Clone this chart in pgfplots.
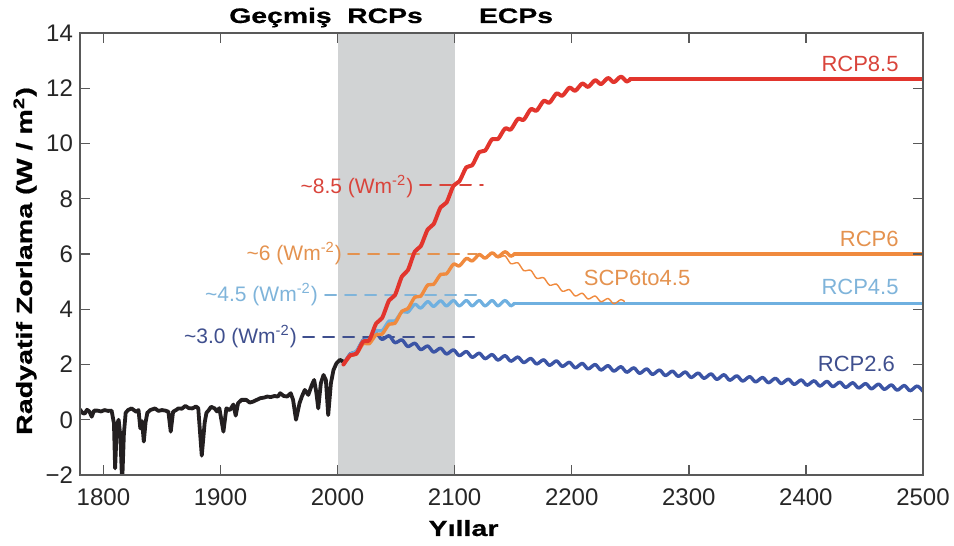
\documentclass[border=0pt]{standalone}
\usepackage{fontspec}
\setmainfont{Liberation Sans}
\newfontfamily\heavy[FakeBold=0.6]{Liberation Sans Bold}
\usepackage{graphicx}
\usepackage{pgfplots}
\pgfplotsset{compat=1.18}

\definecolor{rcpred}{HTML}{E2352D}
\definecolor{rcporange}{HTML}{F08A3E}
\definecolor{rcplblue}{HTML}{6FB0E0}
\definecolor{rcpdblue}{HTML}{3B54A5}
\definecolor{txtred}{HTML}{D9443B}
\definecolor{txtorange}{HTML}{E4924F}
\definecolor{txtlblue}{HTML}{7FB4DA}
\definecolor{txtdblue}{HTML}{3F4F8E}
\definecolor{bandgray}{HTML}{D1D3D4}
\definecolor{histblack}{HTML}{231F20}

\begin{document}
\begin{tikzpicture}
\useasboundingbox (-40pt,-35.5pt) rectangle (437pt,237.5pt);
\begin{axis}[
  at={(0,0)}, anchor=south west,
  scale only axis, width=421.5pt, height=221pt,
  xmin=1780, xmax=2500, ymin=-2, ymax=14,
  xtick={1800,1900,2000,2100,2200,2300,2400,2500},
  xticklabels={1800,1900,2000,2100,2200,2300,2400,2500},
  ytick={-2,0,2,4,6,8,10,12,14},
  yticklabels={−2,0,2,4,6,8,10,12,14},
  tick align=inside, tick pos=both,
  major tick length=5pt,
  axis line style={color=black!65, line width=0.7pt},
  tick style={color=black!65, line width=0.7pt},
  ticklabel style={font=\fontsize{12}{14}\selectfont, color=black!85},
  xticklabel style={yshift=-3.5pt},
  axis on top,
  every axis plot/.append style={line join=round, line cap=round},
]

% scenario period band
\fill[bandgray] (axis cs:2000,-2) rectangle (axis cs:2100,14);

% reference levels
\addplot[draw=txtred, line width=1pt, dash pattern=on 5.5pt off 4.5pt]
  coordinates {(2070.4,8.5) (2124,8.5)};
\addplot[draw=txtorange, line width=1pt, dash pattern=on 5.5pt off 4.5pt]
  coordinates {(2009,6.0) (2119,6.0)};
\addplot[draw=txtlblue, line width=1pt, dash pattern=on 5.5pt off 4.5pt]
  coordinates {(1989.3,4.5) (2119,4.5)};
\addplot[draw=txtdblue, line width=1pt, dash pattern=on 5.5pt off 4.5pt]
  coordinates {(1970.5,3.0) (2119,3.0)};

\node[anchor=base east, inner sep=0pt, text=txtred, font=\fontsize{10.5}{12}\selectfont]
  at (axis cs:2065,8.2) {\textasciitilde 8.5 (Wm\textsuperscript{-2})};
\node[anchor=base east, inner sep=0pt, text=txtorange, font=\fontsize{10.5}{12}\selectfont]
  at (axis cs:2004,5.78) {\textasciitilde 6 (Wm\textsuperscript{-2})};
\node[anchor=base east, inner sep=0pt, text=txtlblue, font=\fontsize{10.5}{12}\selectfont]
  at (axis cs:1983.5,4.27) {\textasciitilde 4.5 (Wm\textsuperscript{-2})};
\node[anchor=base east, inner sep=0pt, text=txtdblue, font=\fontsize{10.5}{12}\selectfont]
  at (axis cs:1965.5,2.77) {\textasciitilde 3.0 (Wm\textsuperscript{-2})};

% historical forcing
\addplot[histblack, line width=1.9pt] coordinates {
(1780,0.37) (1782,0.25) (1784,0.22) (1786,0.36) (1788,0.30) (1790,0.11)
(1792,0.33) (1795,0.33) (1798,0.30) (1801,0.35) (1804,0.32) (1807,0.33)
(1809,-0.13) (1810,-1.76) (1811.5,-0.2) (1813,0.0) (1814.5,-0.6) (1816,-2.3)
(1817.5,-0.5) (1819,0.25) (1821,0.35) (1824,0.41) (1826,0.35) (1828,0.29)
(1830,0.35) (1831.5,-0.31) (1833,-0.05) (1834.5,-0.79) (1836,-0.1) (1837.5,0.25)
(1840,0.35) (1844,0.41) (1847,0.32) (1850,0.35) (1853,0.33) (1855.5,0.29)
(1857.5,-0.43) (1859.5,0.29) (1862,0.35) (1864,0.41) (1867,0.40) (1870,0.50)
(1873,0.42) (1876,0.41) (1879,0.48) (1881,0.42) (1884,-1.3) (1886.5,-0.1)
(1888,0.25) (1890,0.35) (1892,0.47) (1895,0.41) (1897,0.30) (1899,0.42)
(1902.5,-0.43) (1905,0.41) (1908,0.35) (1911,0.55) (1913,0.15) (1915,0.6)
(1918,0.72) (1922,0.72) (1925,0.62) (1928,0.66) (1931,0.72) (1934,0.78)
(1937,0.80) (1940,0.84) (1943,0.82) (1946,0.86) (1949,0.84) (1951,0.96)
(1954,0.86) (1957,0.84) (1960,0.96) (1962,0.72) (1964.5,0.0) (1967.5,0.6)
(1969.5,0.84) (1972,1.08) (1975,0.9) (1978,1.26) (1980,1.44) (1981.8,1.0)
(1983.5,0.41) (1985.7,1.32) (1988,1.62) (1990,1.44) (1992,0.17) (1994.3,1.32)
(1996.5,1.8) (1999,2.04) (2002,2.17) (2005,2.1)
};

% RCP2.6
\addplot[rcpdblue, line width=1.7pt, smooth] coordinates {
(2005,2.00) (2011,2.39) (2016,2.46) (2022,2.89) (2027,2.86) (2033,3.11)
(2038,2.91) (2044,3.04) (2049,2.79) (2055,2.89) (2060,2.65) (2066,2.77)
(2071,2.54) (2077,2.67) (2082,2.45) (2088,2.59) (2093,2.38) (2099,2.53)
(2104,2.32) (2110,2.47) (2115,2.26) (2121,2.41) (2126,2.21) (2132,2.36)
(2137,2.16) (2143,2.32) (2148,2.12) (2154,2.27) (2159,2.07) (2165,2.22)
(2170,2.02) (2176,2.17) (2181,1.97) (2187,2.13) (2192,1.93) (2198,2.08)
(2203,1.88) (2209,2.04) (2214,1.84) (2220,2.00) (2225,1.80) (2231,1.96)
(2236,1.76) (2242,1.92) (2247,1.72) (2253,1.88) (2258,1.68) (2264,1.84)
(2269,1.64) (2275,1.80) (2280,1.60) (2286,1.76) (2291,1.57) (2297,1.73)
(2302,1.53) (2308,1.69) (2313,1.50) (2319,1.66) (2324,1.46) (2330,1.63)
(2335,1.43) (2341,1.59) (2346,1.40) (2352,1.56) (2357,1.37) (2363,1.53)
(2368,1.34) (2374,1.50) (2379,1.31) (2385,1.47) (2390,1.28) (2396,1.44)
(2401,1.25) (2407,1.41) (2412,1.22) (2418,1.39) (2423,1.20) (2429,1.36)
(2434,1.17) (2440,1.34) (2445,1.15) (2451,1.31) (2456,1.12) (2462,1.29)
(2467,1.10) (2473,1.26) (2478,1.07) (2484,1.24) (2489,1.05) (2495,1.22)
(2500,1.03)
};

% RCP4.5
\addplot[rcplblue, line width=1.6pt, smooth] coordinates {
(2005,2.00) (2011,2.38) (2016,2.47) (2022,2.88) (2027,2.89) (2033,3.23)
(2038,3.22) (2044,3.58) (2049,3.57) (2055,3.91) (2060,3.89) (2066,4.18)
(2071,4.04) (2077,4.28) (2082,4.10) (2088,4.31) (2093,4.12) (2099,4.32)
(2104,4.12) (2110,4.32) (2115,4.12) (2121,4.32) (2126,4.12) (2132,4.32)
(2137,4.12) (2143,4.32) (2148,4.12) (2151,4.22)
};
\addplot[rcplblue, line width=1.6pt] coordinates {(2151,4.22) (2500,4.22)};

% RCP6 and its extension to 4.5
\addplot[rcporange, line width=0.7pt, smooth] coordinates {
(2126,5.85) (2132,6.04) (2137,5.87) (2143,5.93) (2148,5.65) (2154,5.68)
(2159,5.40) (2165,5.41) (2170,5.12) (2176,5.14) (2181,4.87) (2187,4.91)
(2192,4.65) (2198,4.71) (2203,4.48) (2209,4.58) (2214,4.37) (2220,4.48)
(2225,4.27) (2231,4.39) (2236,4.20) (2242,4.35) (2245,4.28)
};
\addplot[rcporange, line width=1.7pt, smooth] coordinates {
(2005,2.00) (2011,2.33) (2016,2.37) (2022,2.76) (2027,2.75) (2033,3.08)
(2038,3.10) (2044,3.46) (2049,3.49) (2055,3.93) (2060,4.02) (2066,4.44)
(2071,4.47) (2077,4.88) (2082,4.90) (2088,5.26) (2093,5.28) (2099,5.63)
(2104,5.57) (2110,5.84) (2115,5.75) (2121,5.98) (2126,5.85) (2132,6.04)
(2137,5.90) (2143,6.08) (2148,5.92) (2151,6.00)
};
\addplot[rcporange, line width=1.7pt] coordinates {(2151,6.00) (2500,6.00)};

% RCP8.5
\addplot[rcpred, line width=2pt, smooth] coordinates {
(2005,2.00) (2011,2.34) (2016,2.39) (2022,2.84) (2027,2.88) (2033,3.49)
(2038,3.68) (2044,4.32) (2049,4.51) (2055,5.19) (2060,5.41) (2066,6.09)
(2071,6.28) (2077,6.89) (2082,7.08) (2088,7.69) (2093,7.86) (2099,8.47)
(2104,8.63) (2110,9.14) (2115,9.21) (2121,9.69) (2126,9.74) (2132,10.16)
(2137,10.16) (2143,10.54) (2148,10.51) (2154,10.89) (2159,10.86) (2165,11.24)
(2170,11.19) (2176,11.54) (2181,11.48) (2187,11.81) (2192,11.73) (2198,12.02)
(2203,11.91) (2209,12.17) (2214,12.05) (2220,12.29) (2225,12.15) (2231,12.37)
(2236,12.22) (2242,12.42) (2247,12.24) (2250,12.33)
};
\addplot[rcpred, line width=2pt] coordinates {(2250,12.33) (2500,12.33)};

% scenario names
\node[anchor=base east, inner sep=0pt, text=txtred, font=\fontsize{11}{13}\selectfont]
  at (axis cs:2479.5,12.6) {RCP8.5};
\node[anchor=base east, inner sep=0pt, text=txtorange, font=\fontsize{11}{13}\selectfont]
  at (axis cs:2479.5,6.27) {RCP6};
\node[anchor=base east, inner sep=0pt, text=txtlblue, font=\fontsize{11}{13}\selectfont]
  at (axis cs:2479.5,4.52) {RCP4.5};
\node[anchor=base east, inner sep=0pt, text=txtdblue, font=\fontsize{11}{13}\selectfont]
  at (axis cs:2476.4,1.74) {RCP2.6};
\node[anchor=base west, inner sep=0pt, text=txtorange, font=\fontsize{11}{13}\selectfont]
  at (axis cs:2210,4.86) {SCP6to4.5};
\end{axis}

% period headings and axis titles
\node[anchor=base, inner sep=0pt, font=\heavy\fontsize{10.5}{12}\selectfont]
  at (100.25pt,226pt) {\scalebox{1.35}[1]{Geçmiş}};
\node[anchor=base, inner sep=0pt, font=\heavy\fontsize{10.5}{12}\selectfont]
  at (152.5pt,226pt) {\scalebox{1.35}[1]{RCPs}};
\node[anchor=base, inner sep=0pt, font=\heavy\fontsize{10.5}{12}\selectfont]
  at (218pt,226pt) {\scalebox{1.35}[1]{ECPs}};
\node[anchor=base, inner sep=0pt, font=\heavy\fontsize{11}{13}\selectfont]
  at (191.75pt,-30.5pt) {\scalebox{1.3}[1]{Yıllar}};
\node[anchor=base, rotate=90, inner sep=0pt, font=\heavy\fontsize{11}{13}\selectfont]
  at (-24pt,107pt) {\scalebox{1.3}[1]{Radyatif Zorlama (W / m\textsuperscript{2})}};
\end{tikzpicture}
\end{document}
